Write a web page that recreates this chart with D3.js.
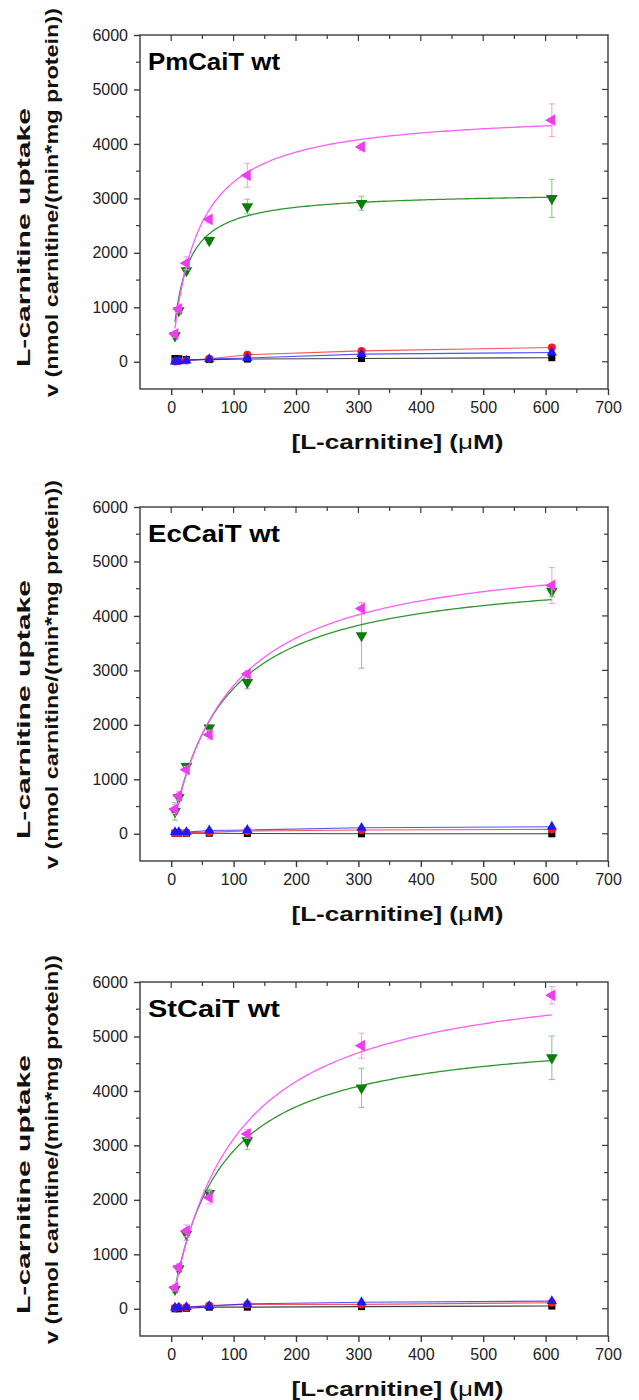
<!DOCTYPE html>
<html>
<head>
<meta charset="utf-8">
<script src="https://cdn.jsdelivr.net/npm/d3@7"></script>
<style>
  html, body { margin: 0; padding: 0; background: #fff; }
  svg { display: block; font-family: "Liberation Sans", Arial, sans-serif; }
</style>
</head>
<body>
<svg id="chart" width="639" height="1400"></svg>
<script>
// Substrate concentrations (µM) shared by all three transporters
const concentrations = [6.1, 12.2, 24.4, 61, 122, 305, 610];

const xTicks = [0, 100, 200, 300, 400, 500, 600, 700];
const yTicks = [0, 1000, 2000, 3000, 4000, 5000, 6000];

const panelTitles = ["PmCaiT wt", "EcCaiT wt", "StCaiT wt"];

// PmCaiT uptake rates (nmol carnitine/(min*mg protein))
const pmBlack   = [60, 55, 40, 40, 50, 60, 75];
const pmRed     = [5, 15, 25, 55, 130, 200, 263];
const pmBlue    = [5, 10, 20, 50, 70, 140, 170];
const pmGreen   = [480, 940, 1675, 2227, 2850, 2910, 3000];
const pmGreenErr = [40, 60, 60, 60, 135, 130, 350];
const pmMagenta = [510, 970, 1810, 2614, 3423, 3944, 4436];
const pmMagentaErr = [60, 60, 120, 60, 220, 60, 300];
const pmGreenFit = [3120, 20];     // [Vmax, Km]
const pmMagentaFit = [4620, 40];

// EcCaiT uptake rates
const ecBlack   = [10, 10, 10, 10, 5, 0, 0];
const ecRed     = [10, 20, 20, 30, 50, 70, 80];
const ecBlue    = [30, 30, 30, 60, 70, 110, 130];
const ecGreen   = [410, 667, 1237, 1943, 2781, 3640, 4454];
const ecGreenErr = [160, 60, 60, 60, 120, 600, 100];
const ecMagenta = [454, 700, 1176, 1820, 2935, 4136, 4559];
const ecMagentaErr = [80, 80, 60, 80, 60, 115, 330];
const ecGreenFit = [4885, 83];
const ecMagentaFit = [5282, 94];

// StCaiT uptake rates
const stBlack   = [0, 0, 10, 30, 30, 40, 50];
const stRed     = [20, 30, 30, 60, 80, 80, 110];
const stBlue    = [20, 20, 30, 50, 90, 120, 140];
const stGreen   = [357, 736, 1369, 2117, 3087, 4057, 4609];
const stGreenErr = [60, 60, 110, 80, 165, 360, 400];
const stMagenta = [387, 768, 1430, 2043, 3210, 4830, 5756];
const stMagentaErr = [60, 60, 110, 120, 80, 230, 160];
const stGreenFit = [5134, 77];
const stMagentaFit = [6299, 102];

const panels = [
  { title: panelTitles[0], black: pmBlack, red: pmRed, blue: pmBlue,
    green: pmGreen, greenErr: pmGreenErr, magenta: pmMagenta, magentaErr: pmMagentaErr,
    greenFit: pmGreenFit, magentaFit: pmMagentaFit },
  { title: panelTitles[1], black: ecBlack, red: ecRed, blue: ecBlue,
    green: ecGreen, greenErr: ecGreenErr, magenta: ecMagenta, magentaErr: ecMagentaErr,
    greenFit: ecGreenFit, magentaFit: ecMagentaFit },
  { title: panelTitles[2], black: stBlack, red: stRed, blue: stBlue,
    green: stGreen, greenErr: stGreenErr, magenta: stMagenta, magentaErr: stMagentaErr,
    greenFit: stGreenFit, magentaFit: stMagentaFit }
];

const svg = d3.select("#chart");
const left = 140, right = 608, plotH = 354;
const panelTops = [35, 507, 982];

const x = d3.scaleLinear().domain([-50, 700]).range([left, right]);
const frameColor = "#3a3a3a";

const colors = {
  black: "#000000", red: "#ff1a1a", blue: "#1a1aff",
  green: "#0b7d0b", greenLine: "#2f962f", greenErr: "#93c793",
  magenta: "#f03cf0", magentaLine: "#ff5cff", magentaErr: "#f5a3f5"
};

// Michaelis–Menten fit curve evaluated on a fine grid of concentrations
function mmCurve(fit) {
  const [vmax, km] = fit;
  return d3.range(0, 201).map(i => {
    const s = 6.1 + (610 - 6.1) * Math.pow(i / 200, 2);
    return [s, vmax * s / (km + s)];
  });
}

// Text stretched to a fixed length, laid out from its start point
function fittedText(parent, str, len, size) {
  return parent.append("text")
    .attr("font-size", size).attr("font-weight", "bold").attr("fill", "#111")
    .attr("textLength", len).attr("lengthAdjust", "spacingAndGlyphs")
    .text(str);
}

panels.forEach((p, pi) => {
  const top = panelTops[pi];
  const y = d3.scaleLinear().domain([-500, 6000]).range([top + plotH, top]);
  const g = svg.append("g");

  // Frame
  g.append("rect")
    .attr("x", left).attr("y", top)
    .attr("width", right - left).attr("height", plotH)
    .attr("fill", "none").attr("stroke", frameColor).attr("stroke-width", 1.4);

  // Bottom axis (outward ticks) with minor ticks
  const xAxis = d3.axisBottom(x).tickValues(xTicks).tickSize(6).tickPadding(7)
    .tickFormat(d3.format("d"));
  const xAxisG = g.append("g").attr("transform", `translate(0,${top + plotH})`).call(xAxis);
  xAxisG.select(".domain").remove();
  xAxisG.selectAll("line").attr("stroke", frameColor).attr("stroke-width", 1.4);
  xAxisG.selectAll("text").attr("font-size", 16).attr("fill", "#222");
  const xMinor = d3.range(-50, 701, 50).filter(v => v % 100 !== 0 && v > -50 && v < 700);
  g.selectAll(null).data(xMinor).join("line")
    .attr("x1", d => x(d)).attr("x2", d => x(d))
    .attr("y1", top + plotH).attr("y2", top + plotH + 4)
    .attr("stroke", frameColor).attr("stroke-width", 1.2);

  // Top mirror ticks (inward)
  const xAll = d3.range(0, 701, 50).filter(v => v < 700);
  g.selectAll(null).data(xAll).join("line")
    .attr("x1", d => x(d)).attr("x2", d => x(d))
    .attr("y1", top).attr("y2", d => top + (d % 100 === 0 ? 6 : 4))
    .attr("stroke", frameColor).attr("stroke-width", 1.2);

  // Left axis (outward ticks)
  const yAxis = d3.axisLeft(y).tickValues(yTicks).tickSize(6).tickPadding(6)
    .tickFormat(d3.format("d"));
  const yAxisG = g.append("g").attr("transform", `translate(${left},0)`).call(yAxis);
  yAxisG.select(".domain").remove();
  yAxisG.selectAll("line").attr("stroke", frameColor).attr("stroke-width", 1.4);
  yAxisG.selectAll("text").attr("font-size", 16).attr("fill", "#222");
  const yMinor = d3.range(-500, 6001, 500).filter(v => v % 1000 !== 0 && v > -500);
  g.selectAll(null).data(yMinor).join("line")
    .attr("x1", left - 4).attr("x2", left)
    .attr("y1", d => y(d)).attr("y2", d => y(d))
    .attr("stroke", frameColor).attr("stroke-width", 1.2);

  // Right mirror ticks (inward)
  const yAll = d3.range(0, 6001, 500);
  g.selectAll(null).data(yAll.filter(v => v < 6000)).join("line")
    .attr("x1", d => right - (d % 1000 === 0 ? 6 : 4)).attr("x2", right)
    .attr("y1", d => y(d)).attr("y2", d => y(d))
    .attr("stroke", frameColor).attr("stroke-width", 1.2);

  // Panel label
  fittedText(g, p.title, 132, 23)
    .attr("x", 148).attr("y", top + 35).attr("fill", "#000");

  // X axis title
  const xt = g.append("text")
    .attr("x", 397.5 - 106).attr("y", top + plotH + 60)
    .attr("font-size", 20).attr("font-weight", "bold").attr("fill", "#111")
    .attr("textLength", 212).attr("lengthAdjust", "spacingAndGlyphs");
  xt.append("tspan").text("[L-carnitine] (");
  xt.append("tspan").attr("font-weight", "normal").text("μ");
  xt.append("tspan").text("M)");

  // Y axis title, two rotated lines
  fittedText(g, "L-carnitine uptake", 259, 19)
    .attr("transform", `translate(30,${top + 202.5 + 129.5}) rotate(-90)`);
  fittedText(g, "v (nmol carnitine/(min*mg protein))", 389, 19)
    .attr("transform", `translate(58,${top + 167.5 + 194.5}) rotate(-90)`);

  const line = d3.line().x(d => x(d[0])).y(d => y(d[1]));

  // Low-activity series: connecting lines then markers
  const lowSeries = [
    { key: "black", vals: p.black, sym: d3.symbolSquare, size: 50 },
    { key: "red", vals: p.red, sym: d3.symbolCircle, size: 50 },
    { key: "blue", vals: p.blue, sym: d3.symbolTriangle, size: 45 }
  ];
  lowSeries.forEach(s => {
    const pts = concentrations.map((c, i) => [c, s.vals[i]]);
    g.append("path").datum(pts).attr("d", line)
      .attr("fill", "none").attr("stroke", colors[s.key]).attr("stroke-width", 1.1)
      .attr("stroke-opacity", 0.75);
  });
  lowSeries.forEach(s => {
    const pts = concentrations.map((c, i) => [c, s.vals[i]]);
    g.selectAll(null).data(pts).join("path")
      .attr("d", d3.symbol().type(s.sym).size(s.size))
      .attr("transform", d => `translate(${x(d[0])},${y(d[1])})`)
      .attr("fill", colors[s.key]);
  });

  // Active series: error bars, fit curve, markers
  const active = [
    { key: "green", vals: p.green, err: p.greenErr, fit: p.greenFit, rot: 180 },
    { key: "magenta", vals: p.magenta, err: p.magentaErr, fit: p.magentaFit, rot: -90 }
  ];
  active.forEach(s => {
    const pts = concentrations.map((c, i) => [c, s.vals[i], s.err[i]]);
    const errColor = colors[s.key + "Err"];
    const eb = g.append("g").attr("stroke", errColor).attr("stroke-width", 1.1);
    eb.selectAll(null).data(pts).join("line")
      .attr("x1", d => x(d[0])).attr("x2", d => x(d[0]))
      .attr("y1", d => y(d[1] - d[2])).attr("y2", d => y(d[1] + d[2]));
    eb.selectAll(null).data(pts.flatMap(d => [[d[0], d[1] - d[2]], [d[0], d[1] + d[2]]])).join("line")
      .attr("x1", d => x(d[0]) - 3).attr("x2", d => x(d[0]) + 3)
      .attr("y1", d => y(d[1])).attr("y2", d => y(d[1]));

    g.append("path").datum(mmCurve(s.fit)).attr("d", line)
      .attr("fill", "none").attr("stroke", colors[s.key + "Line"]).attr("stroke-width", 1.3);

    g.selectAll(null).data(pts).join("path")
      .attr("d", d3.symbol().type(d3.symbolTriangle).size(60))
      .attr("transform", d => `translate(${x(d[0])},${y(d[1])}) rotate(${s.rot})`)
      .attr("fill", colors[s.key]);
  });
});
</script>
</body>
</html>
